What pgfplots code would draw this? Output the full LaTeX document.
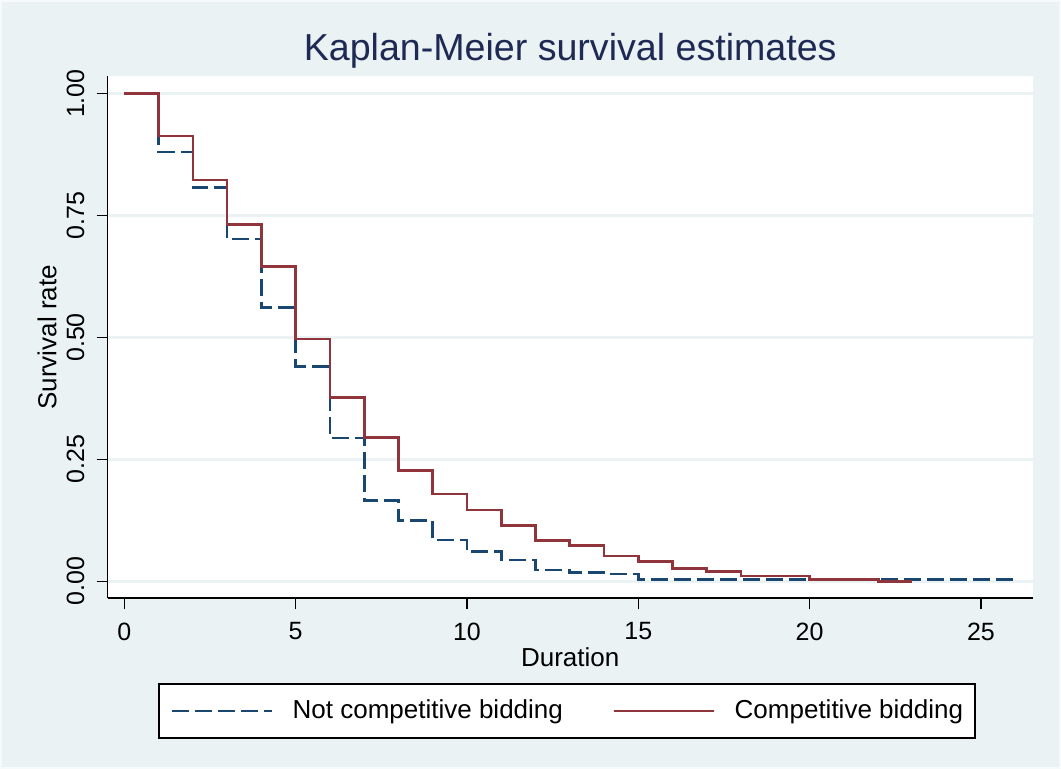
\documentclass[border=0pt]{standalone}
\usepackage{pgfplots}
\pgfplotsset{compat=1.18}
\usepackage{fontspec}
\setmainfont{Liberation Sans}
\definecolor{bgblue}{RGB}{234,242,243}
\definecolor{stnavy}{RGB}{26,71,111}
\definecolor{stmaroon}{RGB}{144,53,59}
\definecolor{ttlnavy}{RGB}{30,42,84}
\begin{document}
\begin{tikzpicture}
\fill[bgblue] (-53.85pt,-85.35pt) rectangle (476.65pt,299.15pt);
\draw[white!60!bgblue, line width=0.8pt] (-53.45pt,-84.95pt) rectangle (476.25pt,298.75pt);
\useasboundingbox (-53.85pt,-85.35pt) rectangle (476.65pt,299.15pt);
\begin{axis}[
  at={(0pt,0pt)}, anchor=south west,
  scale only axis, width=462.5pt, height=261pt,
  xmin=-0.485, xmax=26.51, ymin=-0.0348, ymax=1.0355,
  axis x line*=bottom, axis y line*=left,
  axis line style={black, line width=0.8pt, -},
  axis background/.style={fill=white},
  xtick={0,5,10,15,20,25},
  ytick={0,0.25,0.5,0.75,1},
  yticklabels={0.00,0.25,0.50,0.75,1.00},
  tick align=outside, major tick length=5.5pt,
  tick style={black, line width=0.7pt},
  /pgf/number format/assume math mode=true,
  ticklabel style={font=\fontsize{12.5}{14}\selectfont},
  yticklabel style={rotate=90, anchor=south, inner sep=0pt},
  xticklabel style={anchor=north, inner sep=0pt},
  yticklabel shift=6pt, xticklabel shift=6.5pt,
  ymajorgrids, grid style={bgblue, line width=1.3pt},
  title={Kaplan-Meier survival estimates},
  title style={at={(axis description cs:0.5,1)}, anchor=base, yshift=1.7pt,
    font=\fontsize{18.8}{22}\selectfont, text=ttlnavy},
  xlabel={Duration},
  xlabel style={at={(axis description cs:0.5,0)}, anchor=base, yshift=-33.9pt,
    font=\fontsize{13}{15}\selectfont},
  ylabel={Survival rate},
  ylabel style={at={(axis description cs:-0.0656,0.5)}, anchor=center, rotate=0,
    font=\fontsize{13}{15}\selectfont},
  legend columns=2,
  legend style={at={(axis description cs:0.4965,-0.2159)}, anchor=center,
    draw=black, line width=0.75pt, fill=white, font=\fontsize{13}{15}\selectfont,
    inner xsep=6pt, inner ysep=5pt,
    nodes={inner xsep=0pt, inner ysep=3pt},
    /tikz/every odd column/.append style={column sep=9.5pt},
    /tikz/every even column/.append style={column sep=25pt}},
  legend image code/.code={\draw[#1, line width=1.4pt] (0pt,0pt) -- (50pt,0pt);},
]
\addplot[const plot, stnavy, line width=1.35pt, dash pattern=on 8.5pt off 3pt] coordinates {
(0,1) (1,0.880) (2,0.807) (3,0.702) (4,0.561) (5,0.441) (6,0.294) (7,0.165)
(8,0.124) (9,0.085) (10,0.061) (11,0.044) (12,0.023) (13,0.018) (14,0.015)
(15,0.004) (26,0.004)};
\addlegendentry{Not competitive bidding}
\addplot[const plot, stmaroon, line width=1.35pt] coordinates {
(0,1) (1,0.913) (2,0.823) (3,0.732) (4,0.645) (5,0.497) (6,0.377) (7,0.295)
(8,0.227) (9,0.179) (10,0.146) (11,0.115) (12,0.084) (13,0.074) (14,0.052)
(15,0.040) (16,0.027) (17,0.020) (18,0.011) (20,0.004) (22,0.0) (23,0.0)};
\addlegendentry{Competitive bidding}
\end{axis}
\end{tikzpicture}
\end{document}
